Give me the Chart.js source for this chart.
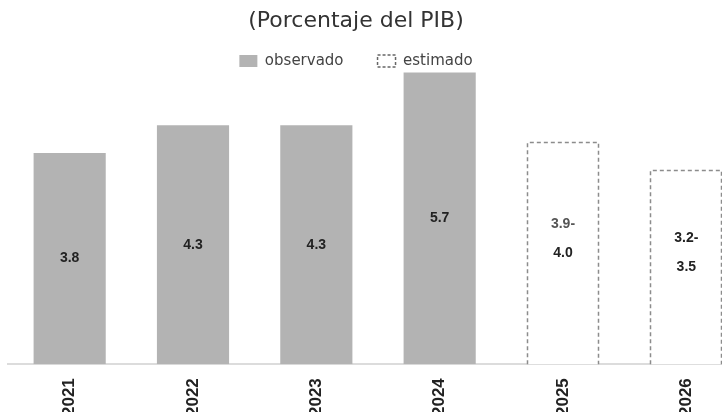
<!DOCTYPE html>
<html>
<head>
<meta charset="utf-8">
<script src="https://cdn.jsdelivr.net/npm/chart.js@4"></script>
<style>
  body { margin: 0; overflow: hidden; background: #fff; }
  #wrap { position: absolute; left: 0; top: 0; width: 750px; height: 422px; }
</style>
</head>
<body>
<div id="wrap"><canvas id="barChart"></canvas></div>
<script>
//Deficit chart (Porcentaje del PIB)

const years = ["2021", "2022", "2023", "2024", "2025", "2026"];
const observado = [3.8, 4.3, 4.3, 5.7, null, null];
const estimado = [null, null, null, null, 4.0, 3.5];
const etiquetas = [["3.8"], ["4.3"], ["4.3"], ["5.7"], ["3.9-", "4.0"], ["3.2-", "3.5"]];

// dashed outline for the estimated bars (bars have no borderDash of their own)
const dashedBars = {
  id: "dashedBars",
  afterDatasetsDraw(chart) {
    const ctx = chart.ctx;
    chart.data.datasets.forEach((ds, di) => {
      if (!ds.dashed) return;
      const meta = chart.getDatasetMeta(di);
      meta.data.forEach((bar, i) => {
        if (ds.data[i] == null) return;
        const l = Math.round(bar.x - bar.width / 2) + 0.5;
        const r = Math.round(bar.x + bar.width / 2) - 0.5;
        const t = Math.round(bar.y) + 0.5;
        ctx.save();
        ctx.strokeStyle = "#8c8c8c";
        ctx.lineWidth = 1.5;
        ctx.setLineDash([4, 3]);
        ctx.beginPath();
        ctx.moveTo(l, bar.base);
        ctx.lineTo(l, t);
        ctx.lineTo(r, t);
        ctx.lineTo(r, bar.base);
        ctx.stroke();
        ctx.restore();
      });
    });
  },
};

// labels drawn in the middle of each bar (last line sits on the middle)
const barLabels = {
  id: "barLabels",
  afterDatasetsDraw(chart) {
    const ctx = chart.ctx;
    ctx.save();
    ctx.font = "bold 14px 'Liberation Sans', Arial, sans-serif";
    ctx.textAlign = "center";
    ctx.textBaseline = "middle";
    const area = chart.chartArea;
    chart.data.datasets.forEach((ds, di) => {
      const meta = chart.getDatasetMeta(di);
      meta.data.forEach((bar, i) => {
        if (ds.data[i] == null) return;
        const top = Math.max(bar.y, area.top);
        const mid = (top + bar.base) / 2;
        const lines = etiquetas[i];
        const lh = 29;
        lines.forEach((t, k) => {
          ctx.fillStyle = i === 4 && k === 0 ? "#555" : "#222";
          ctx.fillText(t, bar.x, mid + (k - (lines.length - 1)) * lh);
        });
      });
    });
    ctx.restore();
  },
};

// pull the plot up closer to the legend
const legendHeight = {
  id: "legendHeight",
  beforeInit(chart) {
    const fit = chart.legend.fit;
    chart.legend.fit = function () {
      fit.bind(chart.legend)();
      this.height -= 21;
    };
  },
};

// title and legend sit a bit left of the plot centre
const shiftHeader = {
  id: "shiftHeader",
  afterLayout(chart) {
    [chart.titleBlock, chart.legend].forEach((b) => {
      if (!b) return;
      b.left -= 22;
      b.right -= 22;
    });
    chart.legend.top -= 15;
  },
};

const data = {
  labels: years,
  datasets: [
    {
      label: "observado",
      data: observado,
      backgroundColor: "#b3b3b3",
      borderWidth: 0,
    },
    {
      label: "estimado",
      data: estimado,
      backgroundColor: "#ffffff",
      borderWidth: 0,
      dashed: true,
    },
  ],
};

const config = {
  type: "bar",
  data: data,
  options: {
    responsive: true,
    maintainAspectRatio: false,
    animation: false,
    grouped: false,
    categoryPercentage: 1,
    barPercentage: 0.585,
    layout: {
      padding: { left: 8, right: 2, top: 0, bottom: 0 },
    },
    scales: {
      x: {
        grid: { display: false },
        border: { color: "#dcdcdc", width: 2 },
        ticks: {
          minRotation: 90,
          maxRotation: 90,
          padding: 6,
          color: "#222",
          font: { family: "'Liberation Sans', Arial, sans-serif", size: 17, weight: "bold" },
        },
      },
      y: {
        display: false,
        min: 0,
        max: 5.25,
      },
    },
    plugins: {
      title: {
        display: true,
        text: "(Porcentaje del PIB)",
        color: "#333",
        font: { family: "'DejaVu Sans', sans-serif", size: 22, weight: "normal" },
        padding: { top: 8, bottom: 0 },
      },
      legend: {
        display: true,
        labels: {
          boxWidth: 18,
          boxHeight: 12,
          color: "#444",
          padding: 34,
          font: { family: "'DejaVu Sans', sans-serif", size: 15 },
          generateLabels: function (chart) {
            const items = Chart.defaults.plugins.legend.labels.generateLabels(chart);
            items.forEach((it) => {
              if (it.text === "estimado") {
                it.fillStyle = "#ffffff";
                it.strokeStyle = "#666666";
                it.lineWidth = 1.5;
                it.lineDash = [3, 2];
              } else {
                it.lineWidth = 0;
              }
            });
            return items;
          },
        },
      },
      tooltip: { enabled: false },
    },
  },
  plugins: [legendHeight, shiftHeader, dashedBars, barLabels],
};

//render init block
const barChart = new Chart(document.getElementById("barChart").getContext("2d"), config);
</script>
</body>
</html>
